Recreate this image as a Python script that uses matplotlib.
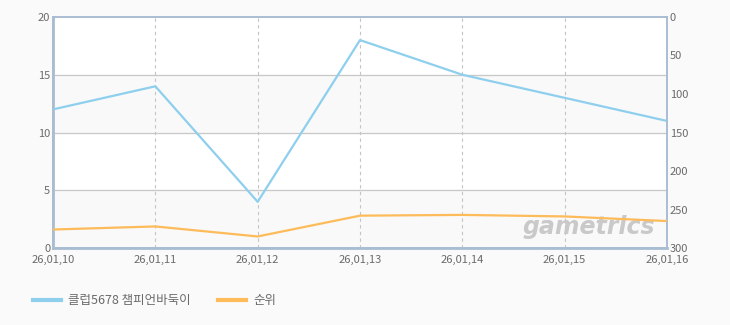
import matplotlib
matplotlib.use("Agg")
import matplotlib.pyplot as plt

plt.rcParams['font.family'] = ['Noto Sans CJK KR', 'DejaVu Sans']

# data
dates = ["26,01,10", "26,01,11", "26,01,12", "26,01,13", "26,01,14", "26,01,15", "26,01,16"]
players = [12, 14, 4, 18, 15, 13, 11]      # left axis
ranks = [276, 272, 285, 258, 257, 259, 265]  # right axis (inverted)
series_names = ["클럽5678 챔피언바둑이", "순위"]

blue = "#8ecfee"
orange = "#fdbb5a"
frame = "#a9bdd2"
txt = "#6a6a6a"

fig = plt.figure(figsize=(7.3, 3.25), dpi=100)
fig.patch.set_facecolor("#fafafa")
ax = fig.add_axes([0.0726, 0.2369, 0.8411, 0.7108])
ax.set_facecolor("white")

x = list(range(len(dates)))
ax.set_xlim(0, len(dates) - 1)
ax.set_ylim(0, 20)

# alternating bands
for lo in (0, 10):
    ax.axhspan(lo, lo + 5, color="#f9f9f9", zorder=0)
for yv in (5, 10, 15):
    ax.axhline(yv, color="#c8c8c8", lw=0.9, zorder=1)
for xv in x[1:-1]:
    ax.axvline(xv, color="#c4c4c4", lw=0.8, ls=(0, (3, 3)), zorder=1)

l1, = ax.plot(x, players, color=blue, lw=1.6, zorder=3)

ax2 = ax.twinx()
ax2.set_ylim(300, 0)
l2, = ax2.plot(x, ranks, color=orange, lw=1.6, zorder=3)

ax.set_xticks(x)
ax.set_xticklabels(dates)
ax.set_yticks([0, 5, 10, 15, 20])
ax2.set_yticks([0, 50, 100, 150, 200, 250, 300])

for a in (ax, ax2):
    a.tick_params(length=0, labelsize=8, colors=txt, pad=2)
    for s in a.spines.values():
        s.set_color(frame)
        s.set_linewidth(1.2)
ax.spines["left"].set_linewidth(2)
ax.spines["bottom"].set_linewidth(2)
ax.tick_params(axis="x", pad=5)

# watermark
ax.text(0.98, 0.09, "gametrics", transform=ax.transAxes, ha="right", va="center",
        fontsize=17, fontweight="bold", style="italic", color="#c9c9c9",
        family="DejaVu Sans", zorder=2)

leg = fig.legend([l1, l2], series_names, loc="lower left", bbox_to_anchor=(0.03, 0.02),
                 ncol=2, frameon=False, fontsize=9, handlelength=2.2, columnspacing=2.2,
                 handletextpad=0.6)
for t in leg.get_texts():
    t.set_color(txt)
for h in leg.get_lines():
    h.set_linewidth(3)

fig.savefig("out.png", dpi=100, facecolor=fig.get_facecolor())
